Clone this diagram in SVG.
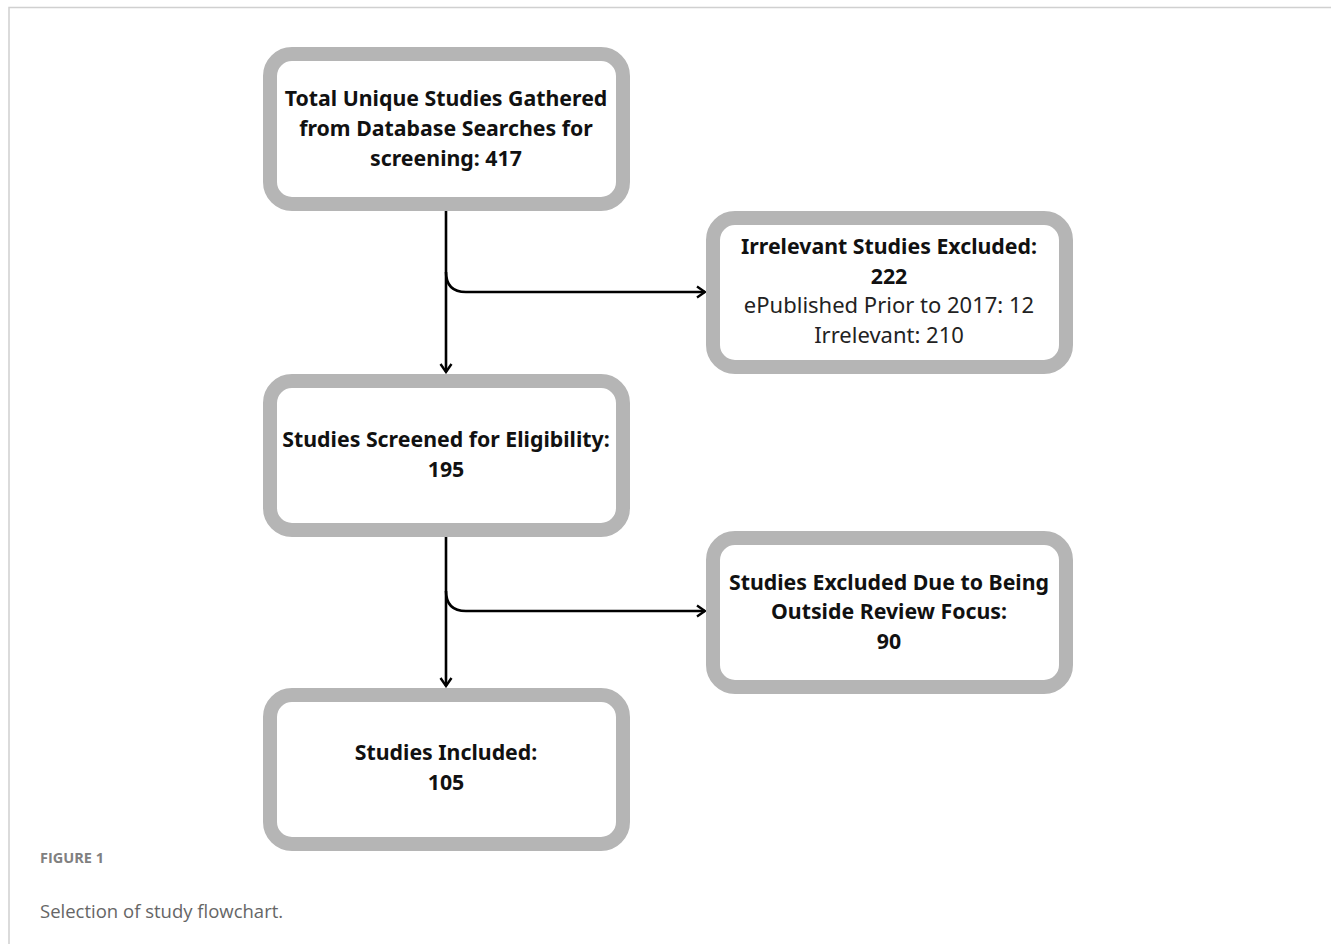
<svg xmlns="http://www.w3.org/2000/svg" width="1331" height="944" viewBox="0 0 1331 944">
<defs>
<marker id="arr" viewBox="0 0 14 14" refX="12" refY="7" markerWidth="14" markerHeight="14" markerUnits="userSpaceOnUse" orient="auto">
<path d="M4,1.5 L12,7 L4,12.5" fill="none" stroke="#000" stroke-width="2.4"/>
</marker>
<style>
.box{fill:#fff;stroke:#b5b5b5;stroke-width:14}
.t{font-family:"Noto Sans","Open Sans",sans-serif;font-size:21.3px;fill:#111;text-anchor:middle}
.b{font-weight:bold}
.r{font-size:22px;fill:#222}
.c{fill:none;stroke:#000;stroke-width:2.6}
</style>
</defs>
<rect width="1331" height="944" fill="#fff"/>
<path d="M9,944 V7.5 H1331" fill="none" stroke="#d0d0d0" stroke-width="1.5"/>
<g id="connectors">
<path class="c" d="M446,211 V372" marker-end="url(#arr)"/>
<path class="c" d="M446,272 Q446,292 466,292 H705" marker-end="url(#arr)"/>
<path class="c" d="M446,537 V686" marker-end="url(#arr)"/>
<path class="c" d="M446,591 Q446,611 466,611 H705" marker-end="url(#arr)"/>
</g>
<g id="n1">
<rect class="box" x="270" y="54" width="353" height="150" rx="22"/>
<text class="t b" x="446" y="106">Total Unique Studies Gathered</text>
<text class="t b" x="446" y="136">from Database Searches for</text>
<text class="t b" x="446" y="166">screening: 417</text>
</g>
<g id="n2">
<rect class="box" x="713" y="218" width="353" height="149" rx="22"/>
<text class="t b" x="889" y="254">Irrelevant Studies Excluded:</text>
<text class="t b" x="889" y="284">222</text>
<text class="t r" x="889" y="313">ePublished Prior to 2017: 12</text>
<text class="t r" x="889" y="343">Irrelevant: 210</text>
</g>
<g id="n3">
<rect class="box" x="270" y="381" width="353" height="149" rx="22"/>
<text class="t b" x="446" y="447">Studies Screened for Eligibility:</text>
<text class="t b" x="446" y="477">195</text>
</g>
<g id="n4">
<rect class="box" x="713" y="538" width="353" height="149" rx="22"/>
<text class="t b" x="889" y="590">Studies Excluded Due to Being</text>
<text class="t b" x="889" y="619">Outside Review Focus:</text>
<text class="t b" x="889" y="649">90</text>
</g>
<g id="n5">
<rect class="box" x="270" y="695" width="353" height="149" rx="22"/>
<text class="t b" x="446" y="760">Studies Included:</text>
<text class="t b" x="446" y="790">105</text>
</g>
<text x="40" y="863" font-family="'Open Sans','Noto Sans',sans-serif" font-size="14.5" font-weight="bold" fill="#808080">FIGURE 1</text>
<text x="40" y="918" font-family="'Open Sans','Noto Sans',sans-serif" font-size="18.5" fill="#666">Selection of study flowchart.</text>
</svg>
